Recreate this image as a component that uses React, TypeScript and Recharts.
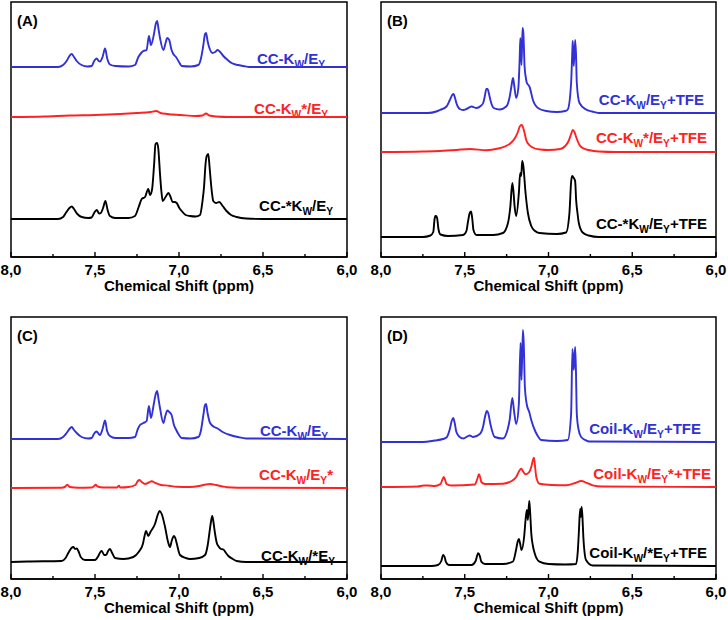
import React from "react";
import { LineChart, Line, XAxis, YAxis, ReferenceArea } from "recharts";

const FONT = '"Liberation Sans", Arial, Helvetica, sans-serif';
const BLUE = "#3131d6";
const RED = "#ff2222";
const BLACK = "#000000";

const X_TICKS = [8, 7.75, 7.5, 7.25, 7, 6.75, 6.5, 6.25, 6];
const X_MAJOR = [8, 7.5, 7, 6.5, 6];

// each spectrum: [ppm, intensity above its own baseline]
const A_BLUE = [[8.0,0],[7.72,0],[7.69,2],[7.669,6],[7.652,11],[7.639,13],[7.625,10],[7.609,6],[7.58,2],[7.545,0.5],[7.52,1],[7.505,6],[7.49,8.5],[7.478,6],[7.47,5.5],[7.455,10],[7.44,18.5],[7.428,9],[7.411,2.5],[7.38,1],[7.3,0.5],[7.262,2],[7.242,10],[7.225,14],[7.212,16],[7.193,17],[7.179,31],[7.167,22],[7.149,33],[7.137,44],[7.13,46],[7.122,38],[7.113,29],[7.093,17],[7.08,24],[7.07,29],[7.058,27],[7.046,18],[7.034,13],[7.018,10],[7.0,5],[6.984,1],[6.93,0.5],[6.885,2],[6.87,8],[6.855,22],[6.845,33],[6.839,34],[6.83,26],[6.819,19],[6.8,14],[6.785,15],[6.77,17],[6.755,15],[6.736,11],[6.71,7],[6.687,4],[6.65,2],[6.617,1],[6.58,0],[6.0,0]];
const A_RED = [[8.0,0],[7.8,0.5],[7.65,1.5],[7.5,2],[7.35,3],[7.25,4],[7.17,5],[7.135,6],[7.11,4],[7.07,3],[6.99,2],[6.9,1],[6.86,1.5],[6.839,3.5],[6.82,1.5],[6.78,0.5],[6.7,0],[6.0,0]];
const A_BLACK = [[8.0,0],[7.72,0],[7.69,2],[7.67,7],[7.652,11],[7.639,12.5],[7.625,10],[7.605,5],[7.579,2],[7.54,1],[7.52,1.5],[7.505,6],[7.49,9],[7.475,5.5],[7.465,6],[7.452,11],[7.438,18],[7.425,9],[7.411,3],[7.38,1],[7.3,1],[7.262,3],[7.24,12],[7.222,20],[7.202,22],[7.183,30],[7.172,24],[7.16,30],[7.148,55],[7.14,75],[7.13,76],[7.123,70],[7.113,45],[7.105,28],[7.097,18],[7.08,22],[7.063,26],[7.05,22],[7.038,17],[7.026,17],[7.014,16],[6.998,11],[6.984,8],[6.96,4],[6.935,3],[6.9,2.5],[6.875,4],[6.86,18],[6.851,32],[6.842,55],[6.835,63],[6.826,65],[6.818,52],[6.811,38],[6.803,25],[6.796,18],[6.78,16],[6.76,17],[6.74,13],[6.717,8],[6.69,4],[6.657,2],[6.6,0.5],[6.5,0],[6.0,0]];

const B_BLUE = [[8.0,0],[7.72,0],[7.67,1.5],[7.649,3],[7.609,6.5],[7.589,13],[7.575,18],[7.567,19],[7.558,15],[7.55,10],[7.53,4],[7.51,3],[7.49,4],[7.46,6.5],[7.43,5],[7.405,7],[7.39,10],[7.38,17],[7.371,24],[7.364,24],[7.355,19],[7.347,13],[7.327,5],[7.292,3.5],[7.252,6.5],[7.232,16],[7.222,26],[7.212,35],[7.205,28],[7.193,15],[7.18,25],[7.172,55],[7.168,75],[7.161,48],[7.155,85],[7.15,80],[7.143,47],[7.135,35],[7.129,30],[7.12,28],[7.113,26],[7.093,13],[7.063,5],[7.014,2],[6.95,1],[6.9,2],[6.885,3.5],[6.865,30],[6.857,65],[6.855,72],[6.849,47],[6.841,73],[6.836,60],[6.831,30],[6.815,10],[6.776,3.5],[6.74,1.5],[6.7,0],[6.0,0]];
const B_RED = [[8.0,0],[7.75,0.5],[7.649,1],[7.55,2],[7.47,3],[7.371,1.8],[7.3,3.5],[7.26,5.5],[7.225,9],[7.2,14],[7.183,20],[7.17,26],[7.16,27],[7.149,23],[7.14,17],[7.133,12],[7.115,7],[7.095,4.5],[7.05,2.5],[7.0,2],[6.93,3],[6.9,6],[6.88,11],[6.865,18],[6.855,22],[6.845,20],[6.835,15],[6.815,7],[6.79,3.5],[6.76,2],[6.7,0.5],[6.6,0],[6.0,0]];
const B_BLACK = [[8.0,0],[7.75,0],[7.705,1.5],[7.688,5],[7.68,18],[7.676,21],[7.671,21],[7.665,19],[7.657,8],[7.645,2.5],[7.6,1],[7.51,2],[7.49,6],[7.48,16],[7.47,24],[7.462,25.5],[7.455,18],[7.448,7],[7.43,2],[7.33,2],[7.272,4],[7.242,14],[7.228,30],[7.216,54],[7.209,45],[7.202,30],[7.193,21],[7.177,44],[7.169,64],[7.163,61],[7.157,76],[7.151,72],[7.137,44],[7.123,24],[7.103,11],[7.08,6],[7.054,4],[6.95,3],[6.895,4.5],[6.875,24],[6.865,55],[6.859,61],[6.849,59],[6.841,56],[6.835,37],[6.827,24],[6.819,14],[6.796,4.5],[6.76,1.5],[6.7,0],[6.0,0]];

const C_BLUE = [[8.0,0],[7.72,0],[7.69,2],[7.669,6],[7.652,10],[7.639,12],[7.625,9],[7.609,6],[7.58,2],[7.54,0.5],[7.52,1],[7.505,5.5],[7.49,7.5],[7.478,5],[7.47,4],[7.455,10],[7.44,18.5],[7.428,8],[7.411,3],[7.38,1],[7.3,1],[7.262,2],[7.245,10],[7.232,14],[7.212,16],[7.193,18],[7.179,33],[7.167,21],[7.15,35],[7.137,46],[7.13,48],[7.122,40],[7.113,31],[7.093,16],[7.08,24],[7.07,28.5],[7.058,27],[7.044,24],[7.03,14],[7.018,9.5],[7.0,4],[6.984,1],[6.93,0.5],[6.885,2],[6.87,8],[6.855,24],[6.845,34],[6.839,35],[6.83,26],[6.815,16],[6.79,12],[6.776,11],[6.74,7],[6.696,4],[6.65,2],[6.6,0.5],[6.0,0]];
const C_RED = [[8.0,0],[7.7,0.3],[7.68,1],[7.665,3.3],[7.65,1],[7.6,0.3],[7.52,0.5],[7.505,2],[7.496,3.3],[7.485,1.5],[7.45,0.5],[7.37,0.5],[7.357,2.3],[7.35,0.5],[7.3,1],[7.26,3],[7.245,7],[7.236,8],[7.222,6],[7.202,4],[7.18,5.5],[7.163,6.7],[7.14,5],[7.113,3.3],[7.06,2.3],[7.014,1.3],[6.935,1],[6.88,2],[6.84,3.5],[6.815,4],[6.78,3],[6.74,1.5],[6.716,0.8],[6.65,0.3],[6.0,0]];
const C_BLACK = [[8.0,0],[7.9,0.5],[7.7,1],[7.675,4],[7.659,9],[7.64,14],[7.629,15],[7.618,13],[7.609,13.5],[7.599,11],[7.585,5],[7.56,2],[7.5,2],[7.48,6],[7.468,10],[7.46,11],[7.445,7],[7.434,7],[7.422,11],[7.411,13],[7.398,9],[7.381,4],[7.33,3],[7.272,5],[7.24,10],[7.215,18],[7.205,26],[7.196,31],[7.183,26],[7.17,30],[7.143,38],[7.125,48],[7.115,51],[7.103,48],[7.083,35],[7.065,20],[7.054,15],[7.042,22],[7.03,26],[7.022,24],[7.014,19],[6.994,7],[6.96,4],[6.935,3],[6.88,4],[6.845,7],[6.83,16],[6.819,29],[6.81,40],[6.802,46],[6.795,40],[6.786,29],[6.775,19],[6.766,16],[6.75,13],[6.736,12.5],[6.72,9],[6.706,6],[6.68,3],[6.657,1],[6.6,0],[6.0,0]];

const D_BLUE = [[8.0,0],[7.75,0],[7.68,1.5],[7.63,3],[7.609,4.5],[7.589,13],[7.578,21],[7.569,24],[7.56,19],[7.55,10],[7.53,5],[7.51,3.5],[7.47,6.5],[7.45,5],[7.41,8],[7.391,15],[7.378,26],[7.368,31],[7.36,29],[7.347,18],[7.321,5],[7.272,3.5],[7.245,12],[7.232,22],[7.216,44],[7.205,30],[7.193,18],[7.177,38],[7.167,99],[7.161,62],[7.153,112],[7.148,100],[7.141,55],[7.129,37],[7.115,30],[7.103,22],[7.077,10],[7.06,5],[7.044,2],[6.95,1],[6.885,2],[6.865,28],[6.857,93],[6.849,72],[6.841,95],[6.836,70],[6.831,28],[6.82,12],[6.805,5],[6.78,2],[6.756,0.5],[6.0,0]];
const D_RED = [[8.0,0],[7.78,0.5],[7.745,1.5],[7.72,1.5],[7.68,1],[7.645,3],[7.632,8],[7.625,10],[7.617,7],[7.609,3],[7.58,1.5],[7.44,2.5],[7.425,8],[7.415,12.7],[7.408,10],[7.401,5],[7.38,3],[7.272,3.3],[7.22,6],[7.193,10],[7.175,16],[7.163,18.3],[7.15,15],[7.137,12.7],[7.115,15],[7.103,20],[7.093,27],[7.087,29.3],[7.08,20],[7.073,10],[7.054,3.3],[6.98,2],[6.895,1.7],[6.84,4],[6.805,6],[6.77,4],[6.736,1.7],[6.68,0.5],[6.0,0]];
const D_BLACK = [[8.0,0],[7.7,0],[7.66,1],[7.64,5],[7.629,11],[7.62,9],[7.613,4.3],[7.595,1],[7.46,1],[7.435,5],[7.42,12.7],[7.41,10],[7.401,4.3],[7.38,2],[7.272,2],[7.212,4.5],[7.195,15],[7.183,25],[7.177,27],[7.169,22],[7.161,16],[7.145,30],[7.137,46],[7.129,56],[7.123,46],[7.115,65],[7.11,55],[7.103,33],[7.093,20],[7.083,13],[7.054,4.3],[7.0,2],[6.9,1.5],[6.835,2],[6.825,15],[6.819,33],[6.811,57],[6.807,49],[6.802,59],[6.797,48],[6.792,29],[6.785,14],[6.776,6],[6.736,0.5],[6.0,0]];

// sample names, "_X" marks a subscript letter
const A_NAMES = ["CC-K_W/E_Y", "CC-K_W*/E_Y", "CC-*K_W/E_Y"];
const B_NAMES = ["CC-K_W/E_Y+TFE", "CC-K_W*/E_Y+TFE", "CC-*K_W/E_Y+TFE"];
const C_NAMES = ["CC-K_W/E_Y", "CC-K_W/E_Y*", "CC-K_W/*E_Y"];
const D_NAMES = ["Coil-K_W/E_Y+TFE", "Coil-K_W/E_Y*+TFE", "Coil-K_W/*E_Y+TFE"];

const COLORS = [BLUE, RED, BLACK];

type Panel = {
  tag: string;
  left: number;
  top: number;
  height: number;
  yMax: number;
  margin: { top: number; left: number; right: number; bottom: number };
  spectra: number[][][];
  names: string[];
  offsets: number[];
  labelTops: number[];
  labelRights: number[];
};

const PANELS: Panel[] = [
  {
    tag: "(A)", left: 0, top: 0, height: 298, yMax: 255,
    margin: { top: 2, left: 11, right: 17, bottom: 0 },
    spectra: [A_BLUE, A_RED, A_BLACK], names: A_NAMES,
    offsets: [190, 140, 38],
    labelTops: [51, 101, 198], labelRights: [325, 328, 333],
  },
  {
    tag: "(B)", left: 364, top: 0, height: 298, yMax: 255,
    margin: { top: 2, left: 17, right: 12, bottom: 0 },
    spectra: [B_BLUE, B_RED, B_BLACK], names: B_NAMES,
    offsets: [144, 105, 20],
    labelTops: [92, 130, 216], labelRights: [704, 707, 707],
  },
  {
    tag: "(C)", left: 0, top: 315, height: 305, yMax: 262,
    margin: { top: 2, left: 11, right: 17, bottom: 0 },
    spectra: [C_BLUE, C_RED, C_BLACK], names: C_NAMES,
    offsets: [140, 91, 17],
    labelTops: [423, 467, 548], labelRights: [328, 333, 335],
  },
  {
    tag: "(D)", left: 364, top: 315, height: 305, yMax: 262,
    margin: { top: 2, left: 17, right: 12, bottom: 0 },
    spectra: [D_BLUE, D_RED, D_BLACK], names: D_NAMES,
    offsets: [137, 92, 13],
    labelTops: [421, 466, 545], labelRights: [701, 711, 707],
  },
];

function Name({ text }: { text: string }) {
  const parts = text.split(/(_\w)/).filter(Boolean);
  return (
    <>
      {parts.map((p, i) =>
        p.startsWith("_") ? (
          <span key={i} style={{ fontSize: "0.68em", position: "relative", top: 4 }}>{p.slice(1)}</span>
        ) : (
          <span key={i}>{p}</span>
        )
      )}
    </>
  );
}

function PpmTick(props: any) {
  const { x, y, payload } = props;
  const major = X_MAJOR.includes(payload.value);
  return (
    <g>
      <line x1={x} x2={x} y1={y} y2={y - (major ? 5 : 3)} stroke="#000" strokeWidth={1.4} />
      {major && (
        <text x={x} y={y + 18} textAnchor="middle" fontFamily={FONT} fontWeight="bold" fontSize={15} fill="#000">
          {payload.value.toFixed(1).replace(".", ",")}
        </text>
      )}
    </g>
  );
}

function SpectrumPanel({ p }: { p: Panel }) {
  return (
    <div style={{ position: "absolute", left: p.left, top: p.top, width: 364, height: p.height }}>
      <LineChart width={364} height={p.height} margin={p.margin}>
        <XAxis
          xAxisId="b" type="number" dataKey="x" domain={[6, 8]} reversed allowDataOverflow
          ticks={X_TICKS} interval={0} tick={<PpmTick />} tickLine={false} tickSize={0} tickMargin={0}
          height={41} axisLine={{ stroke: "#000", strokeWidth: 1.5 }}
          label={{ value: "Chemical Shift (ppm)", position: "insideBottom", offset: 7, fill: "#000", fontFamily: FONT, fontWeight: "bold", fontSize: 15 }}
        />
        <YAxis yAxisId="l" type="number" domain={[0, p.yMax]} allowDataOverflow width={0} tick={false} tickLine={false} axisLine={false} />
        {p.spectra.map((s, i) => (
          <Line
            key={i}
            xAxisId="b"
            yAxisId="l"
            data={s.map(([x, h]) => ({ x, y: h + p.offsets[i] }))}
            dataKey="y"
            type="monotone"
            stroke={COLORS[i]}
            strokeWidth={1.9}
            dot={false}
            isAnimationActive={false}
          />
        ))}
        <ReferenceArea
          xAxisId="b" yAxisId="l" x1={8} x2={6} y1={0} y2={p.yMax}
          fill="none" stroke="#000" strokeWidth={1.5} ifOverflow="visible"
        />
      </LineChart>
      <div style={{ position: "absolute", left: p.margin.left + 6, top: 13, fontFamily: FONT, fontWeight: "bold", fontSize: 15, lineHeight: "15px" }}>
        {p.tag}
      </div>
      {p.names.map((n, i) => (
        <div
          key={n}
          style={{
            position: "absolute",
            right: p.left + 364 - p.labelRights[i],
            top: p.labelTops[i] - p.top,
            color: COLORS[i],
            fontFamily: FONT,
            fontWeight: "bold",
            fontSize: 15,
            lineHeight: "15px",
            whiteSpace: "nowrap",
          }}
        >
          <Name text={n} />
        </div>
      ))}
    </div>
  );
}

export default function App() {
  return (
    <div style={{ position: "absolute", left: 0, top: 0, width: 728, height: 620, background: "#fff", overflow: "hidden" }}>
      {PANELS.map((p) => (
        <SpectrumPanel key={p.tag} p={p} />
      ))}
    </div>
  );
}
